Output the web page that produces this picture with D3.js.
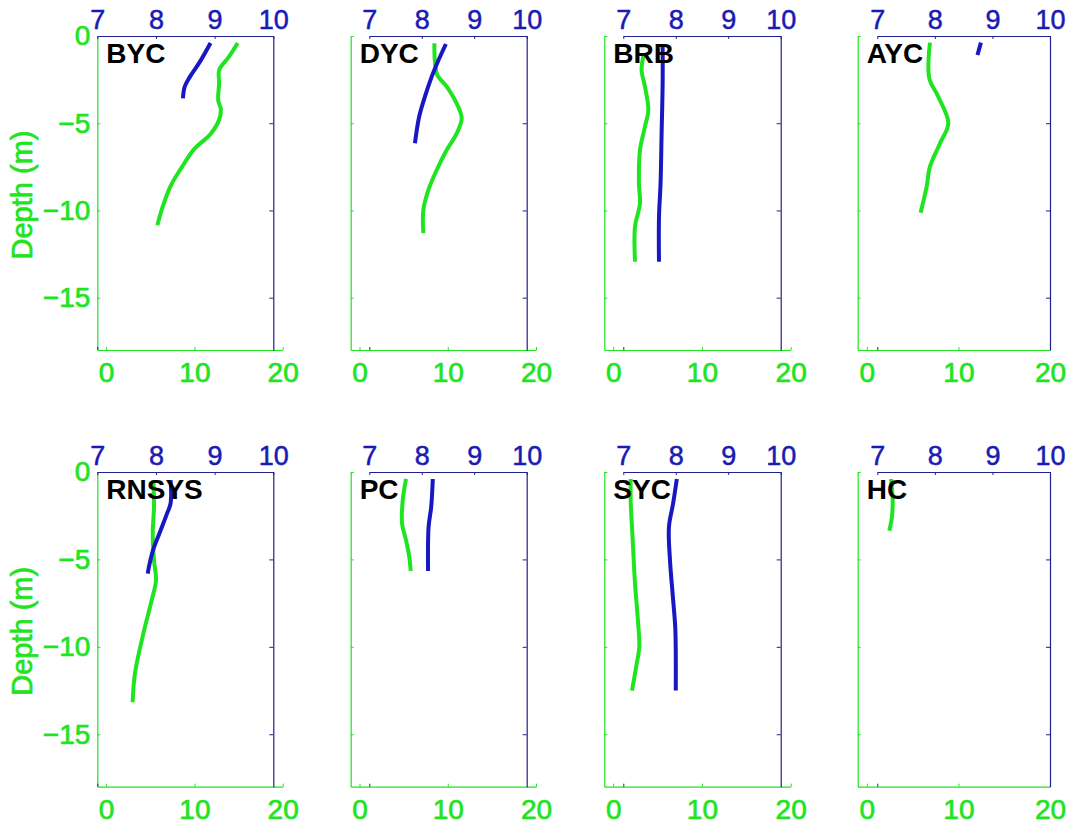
<!DOCTYPE html>
<html>
<head>
<meta charset="utf-8">
<script src="https://cdn.jsdelivr.net/npm/d3@7"></script>
<style>
  body { margin: 0; background: #fff; }
  svg { display: block; }
</style>
</head>
<body>
<svg id="chart" width="1068" height="828"></svg>
<script>
// ---- data: [depth (m), value] pairs per site ----
const sites = ["BYC", "DYC", "BRB", "AYC", "RNSYS", "PC", "SYC", "HC"];

// dissolved oxygen profiles (green, bottom axis 0–20)
const BYC_DO   = [[-0.4,14.9],[-1.2,13.9],[-1.95,12.8],[-2.7,12.8],[-3.7,12.7],[-4.2,13.0],[-4.8,12.8],[-5.6,11.85],[-6.5,9.95],[-7.5,8.6],[-8.6,7.3],[-9.8,6.4],[-10.85,5.8]];
const DYC_DO   = [[-0.42,8.48],[-1.57,8.56],[-2.24,8.82],[-2.9,9.88],[-3.86,11.0],[-4.72,11.58],[-5.6,11.0],[-6.54,9.88],[-7.68,8.75],[-8.83,7.8],[-9.98,7.23],[-11.3,7.23]];
const BRB_DO   = [[-1.0,3.47],[-1.95,3.2],[-2.9,3.58],[-4.24,3.96],[-5.2,3.58],[-6.54,3.02],[-8.45,2.9],[-9.6,3.02],[-10.93,2.46],[-12.94,2.46]];
const AYC_DO   = [[-0.38,6.89],[-2.43,6.82],[-3.48,7.8],[-5.0,8.89],[-6.16,7.98],[-7.49,6.89],[-8.64,6.53],[-10.13,5.87]];
const RNSYS_DO = [[-0.46,5.35],[-1.99,5.42],[-3.5,5.28],[-5.05,5.42],[-6.19,5.65],[-7.34,5.16],[-9.25,4.21],[-11.5,3.27],[-13.17,3.0]];
const PC_DO    = [[-0.4,5.27],[-1.6,4.9],[-2.94,4.82],[-3.9,5.27],[-4.86,5.64],[-5.66,5.8]];
const SYC_DO   = [[-0.4,1.97],[-1.6,1.97],[-3.9,2.2],[-6.38,2.46],[-8.3,2.76],[-10.02,2.94],[-10.97,2.65],[-12.5,2.12]];
const HC_DO    = [[-0.4,2.63],[-1.6,2.82],[-2.56,2.74],[-3.36,2.45]];

// pH profiles (blue, top axis 7–10)
const BYC_PH   = [[-0.4,8.93],[-1.47,8.75],[-2.33,8.58],[-2.9,8.49],[-3.57,8.46]];
const DYC_PH   = [[-0.46,8.46],[-1.38,8.32],[-2.33,8.19],[-3.48,8.06],[-4.63,7.95],[-6.15,7.87]];
const BRB_PH   = [[-0.5,7.75],[-2.7,7.75],[-5.6,7.73],[-8.45,7.71],[-10.4,7.68],[-12.94,7.68]];
const AYC_PH   = [[-0.38,8.8],[-1.09,8.74]];
const RNSYS_PH = [[-0.46,8.25],[-1.78,8.25],[-2.45,8.18],[-3.5,8.06],[-4.47,7.95],[-5.43,7.88],[-5.81,7.86]];
const PC_PH    = [[-0.4,8.21],[-1.99,8.18],[-3.14,8.13],[-5.66,8.12]];
const SYC_PH   = [[-0.4,8.02],[-1.79,7.95],[-3.14,7.87],[-5.05,7.89],[-6.96,7.94],[-8.87,7.99],[-10.4,8.0],[-12.5,8.0]];
const HC_PH    = [];

const doSeries = [BYC_DO, DYC_DO, BRB_DO, AYC_DO, RNSYS_DO, PC_DO, SYC_DO, HC_DO];
const phSeries = [BYC_PH, DYC_PH, BRB_PH, AYC_PH, RNSYS_PH, PC_PH, SYC_PH, HC_PH];

// axis ticks and ranges
const depthTicks = [0, -5, -10, -15];
const doTicks = [0, 10, 20];
const phTicks = [7, 8, 9, 10];
const depthDomain = [0, -18];
const doDomain = [-1, 20];
const phDomain = [7, 10];

// ---- layout ----
const colDO = [[97.3, 282.7], [350.7, 536], [604.3, 790.7], [857.7, 1050]];
const colPH = [[97.3, 273.3], [369.3, 526.7], [623.3, 780.7], [877.3, 1050]];
const rowY  = [[36, 350], [472, 786.7]];

const GREEN = "#1fe41f";
const BLUE_LINE = "#1717c4";
const BLUE_TEXT = "#1a1ab4";
const NAVY = "#20208e";
const FONT = "'Liberation Sans', Arial, Helvetica, sans-serif";

const svg = d3.select("#chart");

const curve = d3.curveCatmullRom.alpha(0.5);

// slightly heavier glyphs via a thin same-colour outline
function heavy(sel, color, w) {
  sel.attr("stroke", color).attr("stroke-width", w).attr("stroke-linejoin", "round");
}

sites.forEach((name, i) => {
  const col = i % 4, row = Math.floor(i / 4);
  const y  = d3.scaleLinear().domain(depthDomain).range(rowY[row]);
  const xo = d3.scaleLinear().domain(doDomain).range(colDO[col]);
  const xp = d3.scaleLinear().domain(phDomain).range(colPH[col]);
  const g = svg.append("g");

  // green left (depth) axis
  const left = g.append("g")
    .attr("transform", `translate(${colDO[col][0]},0)`)
    .call(d3.axisLeft(y).tickValues(depthTicks).tickSizeInner(-3).tickSizeOuter(0).tickPadding(7)
      .tickFormat(col === 0 ? d3.format("d") : () => ""));
  // green bottom (DO) axis
  const bottom = g.append("g")
    .attr("transform", `translate(0,${rowY[row][1]})`)
    .call(d3.axisBottom(xo).tickValues(doTicks).tickSizeInner(-3).tickSizeOuter(0).tickPadding(12));
  [left, bottom].forEach(a => {
    a.select(".domain").attr("stroke", GREEN).attr("stroke-width", 1.2);
    a.selectAll(".tick line").attr("stroke", GREEN);
    const t = a.selectAll(".tick text").attr("fill", GREEN).style("font", `28px ${FONT}`);
    heavy(t, GREEN, 0.7);
  });

  // blue top (pH) axis
  const top = g.append("g")
    .attr("transform", `translate(0,${rowY[row][0]})`)
    .call(d3.axisTop(xp).tickValues(phTicks).tickSizeInner(-3).tickSizeOuter(0).tickPadding(7)
      .tickFormat(d3.format("d")));
  // blue right axis (depth ticks only)
  const right = g.append("g")
    .attr("transform", `translate(${colPH[col][1]},0)`)
    .call(d3.axisRight(y).tickValues(depthTicks).tickSizeInner(-4).tickSizeOuter(0).tickFormat(() => ""));
  // short pH mark at the bottom edge
  const pmark = g.append("g")
    .attr("transform", `translate(0,${rowY[row][1]})`)
    .call(d3.axisBottom(xp).tickValues([7]).tickSizeInner(-3).tickSizeOuter(0).tickFormat(() => ""));
  pmark.select(".domain").remove();
  [top, right, pmark].forEach(a => {
    a.select(".domain").attr("stroke", NAVY).attr("stroke-width", 1.2);
    a.selectAll(".tick line").attr("stroke", NAVY);
    const t = a.selectAll(".tick text").attr("fill", BLUE_TEXT).style("font", `27px ${FONT}`);
    heavy(t, BLUE_TEXT, 0.5);
  });

  // profiles
  const lineDO = d3.line().x(d => xo(d[1])).y(d => y(d[0])).curve(curve);
  const linePH = d3.line().x(d => xp(d[1])).y(d => y(d[0])).curve(curve);
  if (doSeries[i].length) {
    g.append("path").datum(doSeries[i]).attr("d", lineDO)
      .attr("fill", "none").attr("stroke", GREEN).attr("stroke-width", 4)
      .attr("stroke-linejoin", "round");
  }
  if (phSeries[i].length) {
    g.append("path").datum(phSeries[i]).attr("d", linePH)
      .attr("fill", "none").attr("stroke", BLUE_LINE).attr("stroke-width", 4)
      .attr("stroke-linejoin", "round");
  }

  // site name
  g.append("text")
    .attr("x", colDO[col][0] + 9)
    .attr("y", rowY[row][0] + 26.5)
    .attr("fill", "#000")
    .style("font", `bold 28px ${FONT}`)
    .text(name);

  // depth label on first column
  if (col === 0) {
    const cy = (rowY[row][0] + rowY[row][1]) / 2 + 2;
    const t = g.append("text")
      .attr("transform", `translate(32,${cy}) rotate(-90)`)
      .attr("text-anchor", "middle")
      .attr("fill", GREEN)
      .style("font", `29px ${FONT}`)
      .text("Depth (m)");
    heavy(t, GREEN, 0.7);
  }
});
</script>
</body>
</html>
